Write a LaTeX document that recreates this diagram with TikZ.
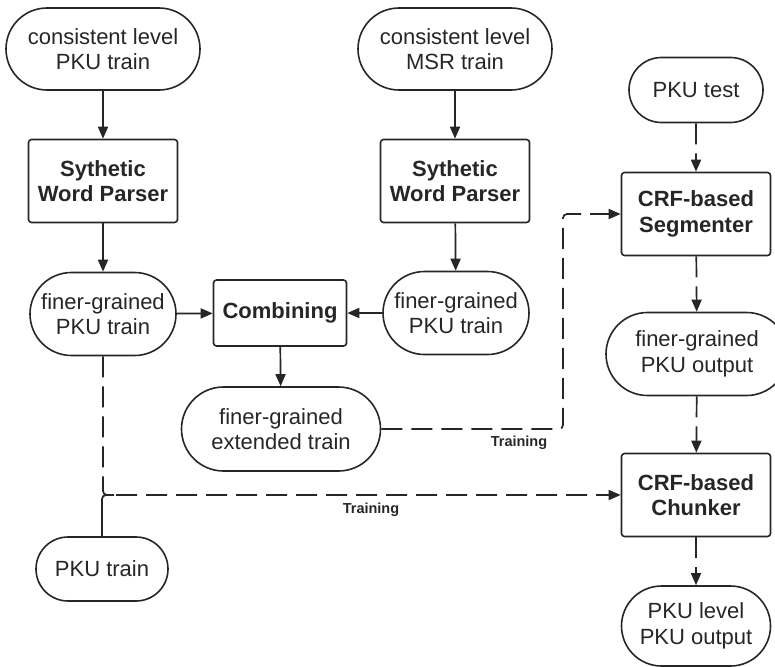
\documentclass[tikz,border=0pt]{standalone}
\usepackage{fontspec}
\setmainfont{Liberation Sans}
\usetikzlibrary{arrows.meta,positioning,shapes.misc}
\definecolor{ink}{HTML}{262626}

\begin{document}
\begin{tikzpicture}[x=1pt, y=-1pt, every node/.style={font=\fontsize{22}{25.5}\selectfont, align=center, text=ink}, data/.style={rounded rectangle, draw=ink, line width=1.6pt, inner sep=0pt}, process/.style={rectangle, rounded corners=3pt, draw=ink, line width=1.6pt, inner sep=0pt, minimum width=149pt, minimum height=83pt, font=\fontsize{22}{25.5}\selectfont\bfseries}, line/.style={-{Triangle[length=12pt,width=10pt]}, line width=1.7pt, draw=ink}, dline/.style={line, dash pattern=on 21pt off 9pt, rounded corners=4pt}, tag/.style={font=\fontsize{14.5}{17}\selectfont\bfseries}]
\useasboundingbox (0,0) rectangle (775,666);

\node[data, minimum width=194pt, minimum height=82pt] (cpku) at (103,49) {consistent level\\PKU train};
\node[process] (parserA) at (103,181) {Sythetic\\Word Parser};
\node[data, minimum width=146pt, minimum height=83pt] (finerA) at (103,314) {finer-grained\\PKU train};
\node[process, minimum width=133pt, minimum height=66pt] (combine) at (280,313) {Combining};
\node[data, minimum width=194pt, minimum height=82pt] (cmsr) at (455,49) {consistent level\\MSR train};
\node[process] (parserB) at (455,181) {Sythetic\\Word Parser};
\node[data, minimum width=146pt, minimum height=83pt] (finerB) at (456,313) {finer-grained\\PKU train};
\node[data, minimum width=199pt, minimum height=84pt] (extended) at (281,429) {finer-grained\\extended train};
\node[data, minimum width=134pt, minimum height=65pt] (test) at (696,90) {PKU test};
\node[process] (segmenter) at (696,214) {CRF-based\\Segmenter};
\node[data, minimum width=182pt, minimum height=83pt] (output) at (697,354) {finer-grained\\PKU output};
\node[process] (chunker) at (696,495) {CRF-based\\Chunker};
\node[data, minimum width=149pt, minimum height=80pt] (final) at (696,626) {PKU level\\PKU output};
\node[data, minimum width=132pt, minimum height=64pt] (pkutrain) at (102,569) {PKU train};

\node[tag] (trainA) at (519,443) {Training};
\node[tag] (trainB) at (371,510) {Training};

\coordinate (bend) at (563,429);
\coordinate (join) at (114,495);

\draw[line] (cpku) -- (parserA);
\draw[line] (parserA) -- (finerA);
\draw[line] (cmsr) -- (parserB);
\draw[line] (parserB) -- (finerB);
\draw[line] (finerA) -- (combine);
\draw[line] (finerB) -- (combine);
\draw[line] (combine) -- (extended);

\draw[dline] (test) -- (segmenter);
\draw[dline] (segmenter) -- (output);
\draw[dline] (output) -- (chunker);
\draw[dline] (chunker) -- (final);
\draw[dline] (extended.east) -- (bend) |- (segmenter.west);
\draw[dline] (finerA.south) |- (chunker.west);
\draw[line width=1.7pt, draw=ink, rounded corners=4pt] (pkutrain.north) |- (join);
\end{tikzpicture}
\end{document}
